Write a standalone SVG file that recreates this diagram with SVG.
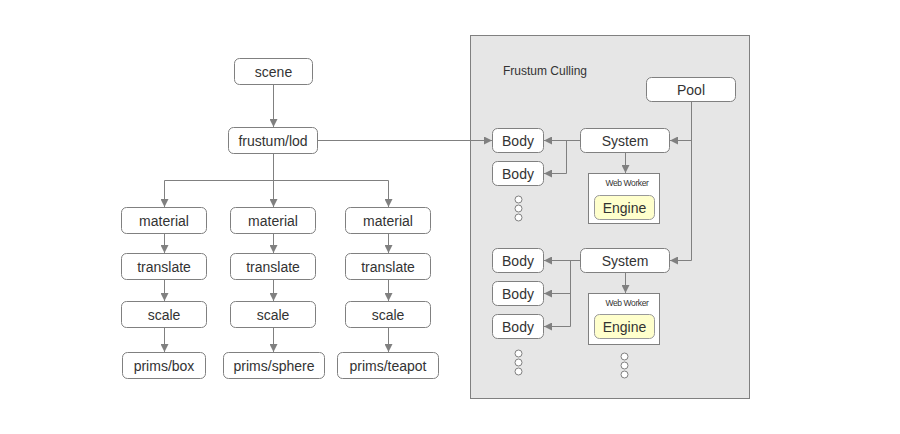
<svg xmlns="http://www.w3.org/2000/svg" width="900" height="434" viewBox="0 0 900 434">
<style>
.n rect{fill:#fff;stroke:#808080;stroke-width:1}
.n text{font-family:"Liberation Sans",Arial,sans-serif;font-size:14px;fill:#333;text-anchor:middle}
.c{fill:none;stroke:#808080;stroke-width:1}
.dot{fill:#fff;stroke:#808080;stroke-width:1}
.ww rect.box{fill:#fff;stroke:#808080}
.ww text.l{font-family:"Liberation Sans",Arial,sans-serif;font-size:8.5px;fill:#333;text-anchor:middle;letter-spacing:-0.4px}
.eng rect{fill:#ffffcc;stroke:#999}
</style>
<defs>
<marker id="a" viewBox="0 0 10 10" refX="10" refY="5" markerWidth="8" markerHeight="8" markerUnits="userSpaceOnUse" orient="auto">
<path d="M0,0 L10,5 L0,10 z" fill="#808080"/>
</marker>
</defs>
<rect id="panel" x="470.5" y="35.5" width="279" height="363" fill="#e6e6e6" stroke="#808080"/>
<text x="503" y="75" font-family="Liberation Sans,Arial,sans-serif" font-size="12" fill="#333">Frustum Culling</text>
<g id="connectors">
<path class="c" d="M273.5,84.5 V127" marker-end="url(#a)"/>
<path class="c" d="M273.5,153.5 V180.5 M164.5,180.5 H388.5"/>
<path class="c" d="M164.5,180.5 V207" marker-end="url(#a)"/>
<path class="c" d="M273.5,180.5 V207" marker-end="url(#a)"/>
<path class="c" d="M388.5,180.5 V207" marker-end="url(#a)"/>
<path class="c" d="M164.5,233.5 V253" marker-end="url(#a)"/>
<path class="c" d="M273.5,233.5 V253" marker-end="url(#a)"/>
<path class="c" d="M388.5,233.5 V253" marker-end="url(#a)"/>
<path class="c" d="M164.5,279.5 V301" marker-end="url(#a)"/>
<path class="c" d="M273.5,279.5 V301" marker-end="url(#a)"/>
<path class="c" d="M388.5,279.5 V301" marker-end="url(#a)"/>
<path class="c" d="M164.5,327.5 V352" marker-end="url(#a)"/>
<path class="c" d="M273.5,327.5 V352" marker-end="url(#a)"/>
<path class="c" d="M388.5,327.5 V352" marker-end="url(#a)"/>
<path class="c" d="M317.5,140.5 H492" marker-end="url(#a)"/>
<path class="c" d="M580.5,140.5 H544" marker-end="url(#a)"/>
<path class="c" d="M566.5,140.5 V173.5 H544" marker-end="url(#a)"/>
<path class="c" d="M691.5,101.5 V260.5"/>
<path class="c" d="M691.5,140.5 H670" marker-end="url(#a)"/>
<path class="c" d="M691.5,260.5 H670" marker-end="url(#a)"/>
<path class="c" d="M625.5,152.5 V173" marker-end="url(#a)"/>
<path class="c" d="M580.5,260.5 H544" marker-end="url(#a)"/>
<path class="c" d="M570.5,260.5 V326.5 H544" marker-end="url(#a)"/>
<path class="c" d="M570.5,293.5 H544" marker-end="url(#a)"/>
<path class="c" d="M625.5,272.5 V293" marker-end="url(#a)"/>
</g>
<g id="scene" class="n"><rect x="234.5" y="58.5" width="78" height="26" rx="5"/><text x="273.5" y="76.5">scene</text></g>
<g id="frustum" class="n"><rect x="228.5" y="127.5" width="89" height="26" rx="5"/><text x="273" y="145.5">frustum/lod</text></g>
<g id="material1" class="n"><rect x="121.5" y="207.5" width="85" height="26" rx="5"/><text x="164" y="225.5">material</text></g>
<g id="material2" class="n"><rect x="230.5" y="207.5" width="85" height="26" rx="5"/><text x="273" y="225.5">material</text></g>
<g id="material3" class="n"><rect x="345.5" y="207.5" width="85" height="26" rx="5"/><text x="388" y="225.5">material</text></g>
<g id="translate1" class="n"><rect x="121.5" y="253.5" width="85" height="26" rx="5"/><text x="164" y="271.5">translate</text></g>
<g id="translate2" class="n"><rect x="230.5" y="253.5" width="85" height="26" rx="5"/><text x="273" y="271.5">translate</text></g>
<g id="translate3" class="n"><rect x="345.5" y="253.5" width="85" height="26" rx="5"/><text x="388" y="271.5">translate</text></g>
<g id="scale1" class="n"><rect x="121.5" y="301.5" width="85" height="26" rx="5"/><text x="164" y="319.5">scale</text></g>
<g id="scale2" class="n"><rect x="230.5" y="301.5" width="85" height="26" rx="5"/><text x="273" y="319.5">scale</text></g>
<g id="scale3" class="n"><rect x="345.5" y="301.5" width="85" height="26" rx="5"/><text x="388" y="319.5">scale</text></g>
<g id="box" class="n"><rect x="122.5" y="352.5" width="83" height="26" rx="5"/><text x="164" y="370.5">prims/box</text></g>
<g id="sphere" class="n"><rect x="223.5" y="352.5" width="101" height="26" rx="5"/><text x="274" y="370.5">prims/sphere</text></g>
<g id="teapot" class="n"><rect x="337.5" y="352.5" width="101" height="26" rx="5"/><text x="388" y="370.5">prims/teapot</text></g>
<g id="pool" class="n"><rect x="646.5" y="77.5" width="89" height="24" rx="5"/><text x="691" y="94.5">Pool</text></g>
<g id="body1" class="n"><rect x="492.5" y="128.5" width="51" height="24" rx="5"/><text x="518" y="145.5">Body</text></g>
<g id="body2" class="n"><rect x="492.5" y="161.5" width="51" height="24" rx="5"/><text x="518" y="178.5">Body</text></g>
<g id="system1" class="n"><rect x="580.5" y="128.5" width="89" height="24" rx="5"/><text x="625" y="145.5">System</text></g>
<g id="worker1" class="ww"><rect class="box" x="588.5" y="173.5" width="71" height="50"/><text class="l" x="627" y="185.5">Web Worker</text>
<g id="engine1" class="n eng"><rect x="594.5" y="195.5" width="60" height="24" rx="5"/><text x="624.5" y="212.5">Engine</text></g></g>
<g id="dots1"><circle class="dot" cx="518.5" cy="199.5" r="3.5"/><circle class="dot" cx="518.5" cy="208.5" r="3.5"/><circle class="dot" cx="518.5" cy="217.5" r="3.5"/></g>
<g id="body3" class="n"><rect x="492.5" y="248.5" width="51" height="24" rx="5"/><text x="518" y="265.5">Body</text></g>
<g id="body4" class="n"><rect x="492.5" y="281.5" width="51" height="24" rx="5"/><text x="518" y="298.5">Body</text></g>
<g id="body5" class="n"><rect x="492.5" y="314.5" width="51" height="24" rx="5"/><text x="518" y="331.5">Body</text></g>
<g id="system2" class="n"><rect x="580.5" y="248.5" width="89" height="24" rx="5"/><text x="625" y="265.5">System</text></g>
<g id="worker2" class="ww"><rect class="box" x="588.5" y="293.5" width="71" height="51"/><text class="l" x="627" y="305.5">Web Worker</text>
<g id="engine2" class="n eng"><rect x="594.5" y="314.5" width="60" height="24" rx="5"/><text x="624.5" y="331.5">Engine</text></g></g>
<g id="dots2"><circle class="dot" cx="518.5" cy="353.5" r="3.5"/><circle class="dot" cx="518.5" cy="362.5" r="3.5"/><circle class="dot" cx="518.5" cy="371.5" r="3.5"/></g>
<g id="dots3"><circle class="dot" cx="624.5" cy="356.5" r="3.5"/><circle class="dot" cx="624.5" cy="365.5" r="3.5"/><circle class="dot" cx="624.5" cy="374.5" r="3.5"/></g>
</svg>
